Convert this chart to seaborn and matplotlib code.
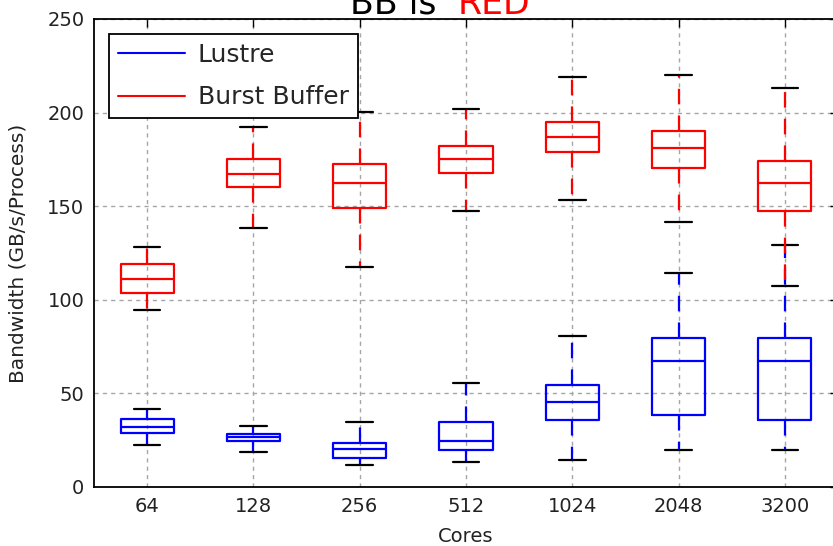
import pandas as pd
import numpy as np
import matplotlib
matplotlib.use("Agg")
import matplotlib.pyplot as plt
from matplotlib.lines import Line2D
import seaborn as sns

cores = ['64', '128', '256', '512', '1024', '2048', '3200']

# box stats: whisker low, q1, median, q3, whisker high
lustre_lo = [22.3, 18.9, 11.9, 13.2, 14.2, 19.9, 19.9]
lustre_q1 = [28.8, 24.4, 15.3, 19.8, 36.0, 38.5, 36.0]
lustre_med = [32.2, 26.5, 20.3, 24.6, 45.2, 67.3, 67.3]
lustre_q3 = [36.3, 28.3, 23.5, 34.9, 54.5, 79.8, 79.8]
lustre_hi = [41.8, 32.8, 34.9, 55.7, 80.8, 114.1, 129.3]

bb_lo = [94.6, 138.4, 117.7, 147.6, 153.3, 141.7, 107.2]
bb_q1 = [103.8, 160.3, 149.2, 167.9, 178.9, 170.6, 147.4]
bb_med = [110.9, 167.0, 162.6, 175.2, 186.8, 180.9, 162.6]
bb_q3 = [119.1, 175.2, 172.7, 181.9, 194.8, 190.2, 174.1]
bb_hi = [128.2, 192.5, 200.5, 201.7, 219.0, 220.1, 213.1]

series = ['Lustre', 'Burst Buffer']
colors = {'Lustre': 'blue', 'Burst Buffer': 'red'}


def long_rows(name, lo, q1, med, q3, hi):
    rows = []
    for i, c in enumerate(cores):
        for v in (lo[i], q1[i], med[i], q3[i], hi[i]):
            rows.append({'Cores': c, 'bw': v, 'fs': name})
    return rows


rows = long_rows('Lustre', lustre_lo, lustre_q1, lustre_med, lustre_q3, lustre_hi)
rows += long_rows('Burst Buffer', bb_lo, bb_q1, bb_med, bb_q3, bb_hi)
df = pd.DataFrame(rows)

sns.set_style('white')
plt.rcParams['font.family'] = ['DejaVu Sans']

fig = plt.figure(figsize=(8.33, 5.46), dpi=100)
ax = fig.add_axes([94 / 833, 1 - 487 / 546, 744 / 833, 468 / 546])

sns.boxplot(data=df, x='Cores', y='bw', hue='fs', order=cores, hue_order=series,
            palette=colors, dodge=False, width=0.5, whis=(0, 100), fill=False,
            linewidth=1.6, whiskerprops=dict(linestyle=(0, (7, 5))),
            capprops=dict(color='black'), legend=False, ax=ax)

ax.set_xlim(-0.5, 6.5)
ax.set_ylim(0, 250)
ax.set_yticks(range(0, 251, 50))
ax.grid(True, linestyle=(0, (3, 3)), color='0.65', linewidth=1)
ax.set_axisbelow(True)
for s in ax.spines.values():
    s.set_color('black')
    s.set_linewidth(1.3)
ax.tick_params(direction='in', length=6, width=1, top=True, right=True,
               labelsize=14, colors='black', labelcolor='#222222', pad=7)
ax.set_xlabel('Cores', fontsize=14, color='#222222', labelpad=8)
ax.set_ylabel('Bandwidth (GB/s/Process)', fontsize=14.5, color='#222222', labelpad=14)

handles = [Line2D([], [], color='blue', lw=1.5), Line2D([], [], color='red', lw=1.5)]
leg = ax.legend(handles, series, loc='upper left', fontsize=18, fancybox=False,
                framealpha=1, edgecolor='black', handlelength=2.7, handletextpad=0.5,
                borderpad=0.35, labelspacing=0.75, borderaxespad=0.6)
leg.get_frame().set_linewidth(1.3)

fig.text(437 / 833, 1 - 14 / 546, 'BB is', ha='right', va='baseline', fontsize=25, color='black')
fig.text(458 / 833, 1 - 14 / 546, 'RED', ha='left', va='baseline', fontsize=25, color='red')

fig.savefig('out.png', dpi=100)
